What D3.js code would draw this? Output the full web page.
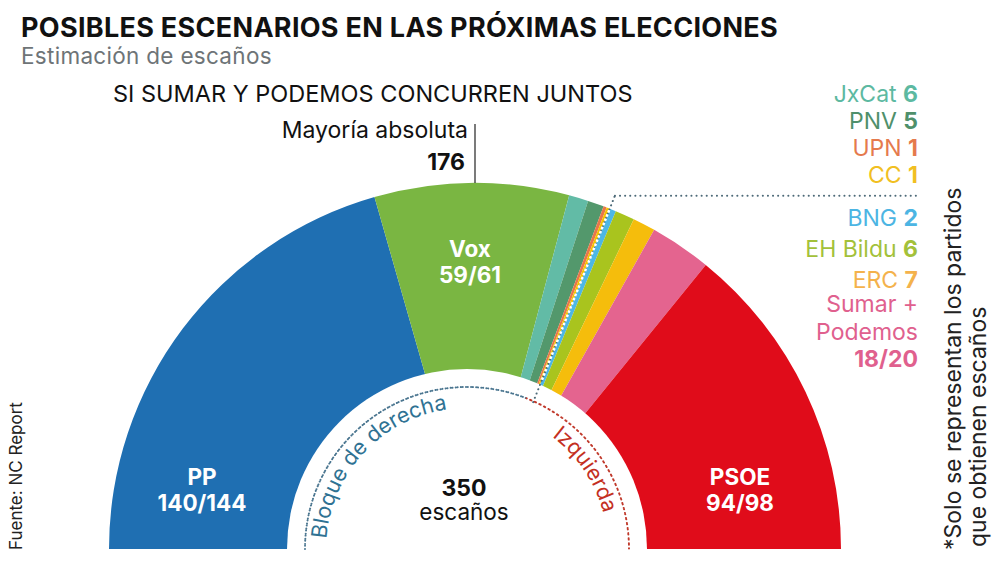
<!DOCTYPE html>
<html>
<head>
<meta charset="utf-8">
<script src="https://cdn.jsdelivr.net/npm/d3@7"></script>
<style>
  body { margin: 0; background: #fff; }
  svg { font-family: Inter, Roboto, "Noto Sans", sans-serif; }
</style>
</head>
<body>
<div id="chart"></div>
<script>
// seat estimates (drawn widths) and the labels shown
var parties = ["PP", "Vox", "JxCat", "PNV", "UPN", "CC", "BNG", "EH Bildu", "ERC", "Sumar + Podemos", "PSOE"];
var seats = [144, 60, 6, 5, 1, 1, 2, 6, 7, 19, 99];
var seatLabels = ["140/144", "59/61", "6", "5", "1", "1", "2", "6", "7", "18/20", "94/98"];
var partyColors = ["#1f6fb2", "#7ab642", "#62bba6", "#53986c", "#e9774a", "#f6c200", "#4db7e6", "#a9c41e", "#f5bd0c", "#e4648f", "#e00c1a"];
var textColors = ["#fff", "#fff", "#5db9a1", "#4f906b", "#e57a4d", "#f1bf22", "#4cb5e3", "#a3c13a", "#f4b24c", "#e0608e", "#fff"];

// legend order (small parties), split after CC
var legendParties = ["JxCat", "PNV", "UPN", "CC", "BNG", "EH Bildu", "ERC"];
var totalSeats = 350;
var majority = 176;
var rightBlockEnd = 6; // parties 0..5 form the right bloc

var svgWidth = 1000;
var svgHeight = 567;

var svg = d3.select("#chart")
  .append("svg")
  .attr("width", svgWidth)
  .attr("height", svgHeight);

// centre of the hemicycle
var cx = 475, cy = 549;
var outerR = 366;
var holeX = 467, holeR = 180;

var angle = d3.scaleLinear()
  .domain([0, totalSeats])
  .range([-Math.PI / 2, Math.PI / 2]);

function pt(a, r, x0) {
  return [(x0 || cx) + r * Math.sin(a), cy - r * Math.cos(a)];
}

// titles
svg.append("text")
  .attr("x", 21).attr("y", 37)
  .attr("font-size", 27).attr("font-weight", 700)
  .attr("letter-spacing", 0.3)
  .attr("fill", "#111")
  .text("POSIBLES ESCENARIOS EN LAS PRÓXIMAS ELECCIONES");

svg.append("text")
  .attr("x", 21).attr("y", 64)
  .attr("font-size", 22.5).attr("letter-spacing", 0.3)
  .attr("fill", "#6e7477")
  .text("Estimación de escaños");

svg.append("text")
  .attr("x", 113).attr("y", 102)
  .attr("font-size", 23.5).attr("fill", "#111")
  .text("SI SUMAR Y PODEMOS CONCURREN JUNTOS");

// hemicycle
var pie = d3.pie()
  .sort(null)
  .startAngle(-Math.PI / 2)
  .endAngle(Math.PI / 2)
  .value(d => d);

var arc = d3.arc()
  .innerRadius(165)
  .outerRadius(outerR);

var g = svg.append("g")
  .attr("transform", `translate(${cx}, ${cy})`);

g.selectAll("path.seat")
  .data(pie(seats))
  .enter()
  .append("path")
  .attr("class", "seat")
  .attr("d", arc)
  .attr("fill", (d, i) => partyColors[i]);

// hole
svg.append("circle")
  .attr("cx", holeX).attr("cy", cy)
  .attr("r", holeR)
  .attr("fill", "#fff");

// bloc split line
var splitSeats = d3.sum(seats.slice(0, rightBlockEnd));
var splitA = angle(splitSeats);
var pIn = pt(splitA, 158), pOut = pt(splitA, 380);
svg.append("line")
  .attr("x1", pIn[0]).attr("y1", pIn[1])
  .attr("x2", pOut[0]).attr("y2", pOut[1])
  .attr("stroke", "#4d6a78").attr("stroke-width", 2)
  .attr("stroke-dasharray", "0.1,4.5").attr("stroke-linecap", "round");
var pA = pt(splitA, holeR + 2), pB = pt(splitA, outerR);
svg.append("line")
  .attr("x1", pA[0]).attr("y1", pA[1])
  .attr("x2", pB[0]).attr("y2", pB[1])
  .attr("stroke", "#fff").attr("stroke-width", 2.5)
  .attr("stroke-dasharray", "2.5,2");
svg.append("line")
  .attr("x1", pOut[0]).attr("y1", pOut[1])
  .attr("x2", 918).attr("y2", pOut[1])
  .attr("stroke", "#4d6a78").attr("stroke-width", 2)
  .attr("stroke-dasharray", "0.1,5").attr("stroke-linecap", "round");

// dotted bloc arcs inside the hole
var blocArc = d3.arc().innerRadius(162).outerRadius(162);
var hole = svg.append("g")
  .attr("transform", `translate(${holeX}, ${cy})`);
hole.append("path")
  .attr("d", blocArc({startAngle: -Math.PI / 2, endAngle: splitA}))
  .attr("fill", "none").attr("stroke", "#4b7690").attr("stroke-width", 2)
  .attr("stroke-dasharray", "0.1,5").attr("stroke-linecap", "round");
hole.append("path")
  .attr("d", blocArc({startAngle: splitA, endAngle: Math.PI / 2}))
  .attr("fill", "none").attr("stroke", "#c0392b").attr("stroke-width", 2)
  .attr("stroke-dasharray", "0.1,5").attr("stroke-linecap", "round");

// text path for bloc names
var textR = 141;
hole.append("path")
  .attr("id", "blocPath")
  .attr("d", `M${-textR},0 A${textR},${textR} 0 0 1 ${textR},0`)
  .attr("fill", "none");

hole.append("text")
  .attr("font-size", 21.5).attr("fill", "#2f7293")
  .append("textPath")
  .attr("href", "#blocPath")
  .attr("startOffset", 10)
  .text("Bloque de derecha");

hole.append("text")
  .attr("font-size", 21.5).attr("fill", "#c4301f")
  .append("textPath")
  .attr("href", "#blocPath")
  .attr("startOffset", textR * Math.PI * 127 / 180)
  .text("Izquierda");

// total
svg.append("text")
  .attr("x", 464).attr("y", 496)
  .attr("text-anchor", "middle")
  .attr("font-size", 23).attr("font-weight", 700).attr("fill", "#111")
  .text(totalSeats);
svg.append("text")
  .attr("x", 464).attr("y", 520)
  .attr("text-anchor", "middle")
  .attr("font-size", 22.5).attr("fill", "#111")
  .text("escaños");

// majority marker
var mTop = pt(angle(majority - 1), outerR);
svg.append("line")
  .attr("x1", mTop[0]).attr("y1", 124)
  .attr("x2", mTop[0]).attr("y2", mTop[1])
  .attr("stroke", "#222").attr("stroke-width", 1.2);
svg.append("text")
  .attr("x", 468).attr("y", 138)
  .attr("text-anchor", "end")
  .attr("font-size", 23).attr("fill", "#111")
  .text("Mayoría absoluta");
svg.append("text")
  .attr("x", 465).attr("y", 170)
  .attr("text-anchor", "end")
  .attr("font-size", 23).attr("font-weight", 700).attr("fill", "#111")
  .text(majority);

// big party labels
var bigLabels = [
  {i: 0, x: 202, y: 485},
  {i: 1, x: 470, y: 257},
  {i: 10, x: 740, y: 485}
];
bigLabels.forEach(function(b) {
  var t = svg.append("text")
    .attr("text-anchor", "middle")
    .attr("font-size", 22.5).attr("font-weight", 700)
    .attr("fill", textColors[b.i]);
  t.append("tspan").attr("x", b.x).attr("y", b.y).text(parties[b.i]);
  t.append("tspan").attr("x", b.x).attr("y", b.y + 26).text(seatLabels[b.i]);
});

// legend for small parties
var legendY = [102, 129, 156, 183, 226, 257, 288];
legendParties.forEach(function(name, k) {
  var i = parties.indexOf(name);
  var t = svg.append("text")
    .attr("x", 918).attr("y", legendY[k])
    .attr("text-anchor", "end")
    .attr("font-size", 23)
    .attr("fill", textColors[i]);
  t.append("tspan").text(name + " ");
  t.append("tspan").attr("font-weight", 700).text(seatLabels[i]);
});

var iS = parties.indexOf("Sumar + Podemos");
var sumarText = svg.append("text")
  .attr("text-anchor", "end")
  .attr("font-size", 23)
  .attr("fill", textColors[iS]);
sumarText.append("tspan").attr("x", 918).attr("y", 312).text("Sumar +");
sumarText.append("tspan").attr("x", 918).attr("y", 340).text("Podemos");
sumarText.append("tspan").attr("x", 918).attr("y", 367)
  .attr("font-weight", 700).text(seatLabels[iS]);

// source and note
svg.append("text")
  .attr("transform", "translate(22, 550) rotate(-90)")
  .attr("font-size", 17).attr("fill", "#222")
  .text("Fuente: NC Report");

var note = svg.append("text")
  .attr("transform", "translate(961, 550) rotate(-90)")
  .attr("font-size", 23).attr("fill", "#222");
note.append("tspan").attr("x", 0).attr("y", 0).text("*Solo se representan los partidos");
note.append("tspan").attr("x", 3).attr("y", 25).text("que obtienen escaños");
</script>
</body>
</html>
